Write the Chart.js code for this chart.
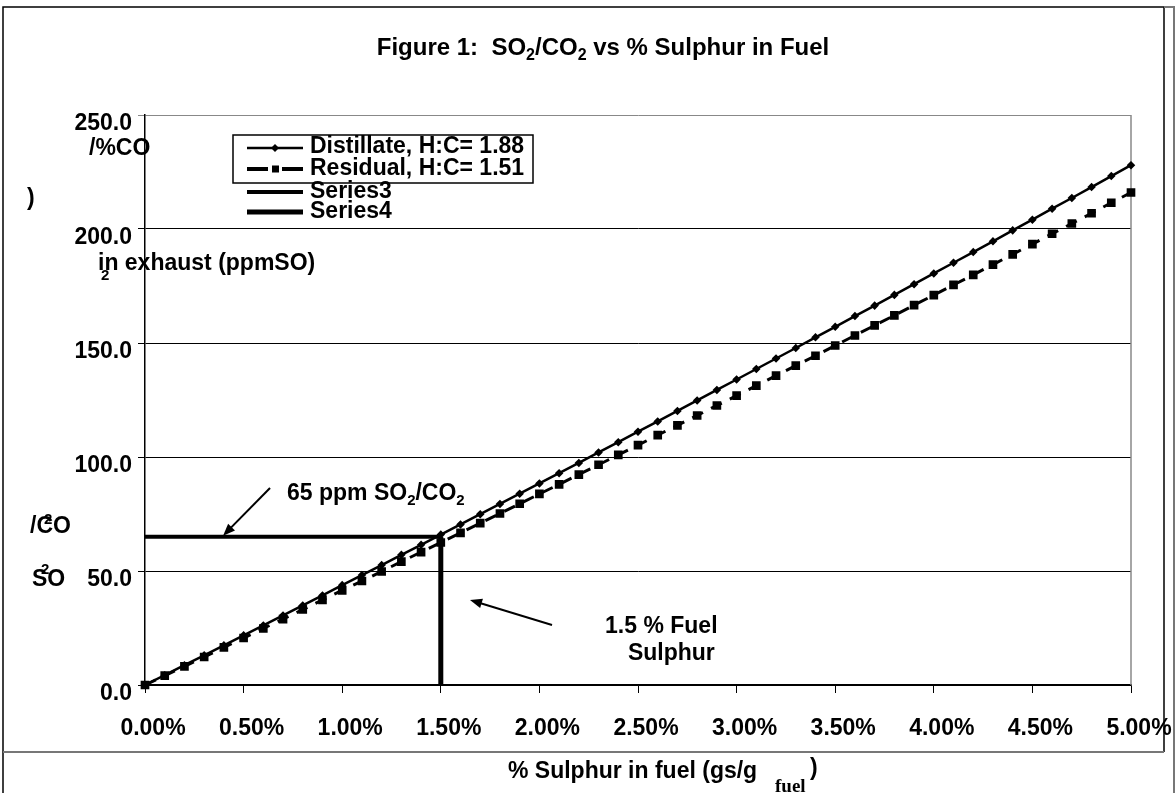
<!DOCTYPE html>
<html>
<head>
<meta charset="utf-8">
<script src="https://cdn.jsdelivr.net/npm/chart.js@4/dist/chart.umd.min.js"></script>
<style>
  html, body { margin: 0; padding: 0; background: #fff; }
  #wrap { position: relative; width: 1176px; height: 793px; }
</style>
</head>
<body>
<div id="wrap"><canvas id="chart"></canvas></div>
<script>
// % sulphur in fuel (x values, every 0.1 %)
const sulphurPct = [0.0, 0.1, 0.2, 0.3, 0.4, 0.5, 0.6, 0.7, 0.8, 0.9,
  1.0, 1.1, 1.2, 1.3, 1.4, 1.5, 1.6, 1.7, 1.8, 1.9,
  2.0, 2.1, 2.2, 2.3, 2.4, 2.5, 2.6, 2.7, 2.8, 2.9,
  3.0, 3.1, 3.2, 3.3, 3.4, 3.5, 3.6, 3.7, 3.8, 3.9,
  4.0, 4.1, 4.2, 4.3, 4.4, 4.5, 4.6, 4.7, 4.8, 4.9, 5.0];

// ppm SO2 / %CO2
const distillate = [0.0, 4.3, 8.7, 13.0, 17.4, 21.8, 26.1, 30.5, 34.9, 39.3,
  43.8, 48.2, 52.6, 57.1, 61.5, 66.0, 70.4, 74.9, 79.4, 83.9,
  88.4, 92.9, 97.4, 102.0, 106.5, 111.1, 115.6, 120.2, 124.8, 129.4,
  134.0, 138.6, 143.2, 147.8, 152.5, 157.1, 161.8, 166.4, 171.1, 175.8,
  180.5, 185.2, 189.9, 194.6, 199.4, 204.1, 208.9, 213.6, 218.4, 223.2, 228.0];

const residual = [0.0, 4.1, 8.2, 12.3, 16.5, 20.6, 24.8, 28.9, 33.1, 37.3,
  41.5, 45.6, 49.8, 54.1, 58.3, 62.5, 66.7, 71.0, 75.2, 79.5,
  83.8, 88.0, 92.3, 96.6, 100.9, 105.2, 109.6, 113.9, 118.2, 122.6,
  126.9, 131.3, 135.7, 140.1, 144.4, 148.9, 153.3, 157.7, 162.1, 166.6,
  171.0, 175.5, 179.9, 184.4, 188.9, 193.4, 197.9, 202.4, 206.9, 211.5, 216.0];

// 65 ppm reference lines
const series3X = [0, 1.5];
const series3Y = [65, 65];
const series4X = [1.5, 1.5];
const series4Y = [0, 65];

const seriesNames = ['Distillate, H:C= 1.88', 'Residual, H:C= 1.51', 'Series3', 'Series4'];

const FONT = '"Liberation Sans", Arial, sans-serif';
Chart.defaults.font.family = FONT;
Chart.defaults.color = '#000';

function pts(xs, ys) {
  return xs.map((x, i) => ({ x: x, y: ys[i] }));
}

// draw text made of parts, some of them subscript
function drawRich(ctx, parts, x, y, size) {
  let cx = x;
  parts.forEach(p => {
    const s = p[1] ? Math.round(size * 0.65) : size;
    ctx.font = 'bold ' + s + 'px ' + FONT;
    ctx.fillText(p[0], cx, p[1] ? y + size * 0.22 : y);
    cx += ctx.measureText(p[0]).width;
  });
}
function richWidth(ctx, parts, size) {
  let w = 0;
  parts.forEach(p => {
    const s = p[1] ? Math.round(size * 0.65) : size;
    ctx.font = 'bold ' + s + 'px ' + FONT;
    w += ctx.measureText(p[0]).width;
  });
  return w;
}

function arrow(ctx, x1, y1, x2, y2) {
  const a = Math.atan2(y2 - y1, x2 - x1);
  ctx.beginPath();
  ctx.moveTo(x1, y1);
  ctx.lineTo(x2 - 6 * Math.cos(a), y2 - 6 * Math.sin(a));
  ctx.lineWidth = 2;
  ctx.stroke();
  ctx.beginPath();
  ctx.moveTo(x2, y2);
  ctx.lineTo(x2 - 13 * Math.cos(a - 0.38), y2 - 13 * Math.sin(a - 0.38));
  ctx.lineTo(x2 - 13 * Math.cos(a + 0.38), y2 - 13 * Math.sin(a + 0.38));
  ctx.closePath();
  ctx.fill();
}

// annotations in data units (% sulphur, ppm)
const arrows = [
  { from: [0.634, 86.4], to: [0.396, 65.5] },
  { from: [2.064, 26.3], to: [1.648, 37.3] }
];
const notes = [
  { at: [0.72, 81.0], parts: [['65 ppm SO'], ['2', 1], ['/CO'], ['2', 1]] },
  { at: [2.333, 22.8], parts: [['1.5 % Fuel']] },
  { at: [2.449, 11.0], parts: [['Sulphur']] }
];

const overlay = {
  id: 'overlay',
  beforeDatasetsDraw(chart) {
    const { ctx, chartArea: a } = chart;
    ctx.save();
    ctx.strokeStyle = '#888';
    ctx.lineWidth = 1.5;
    ctx.beginPath();
    ctx.moveTo(a.right, a.top);
    ctx.lineTo(a.right, a.bottom);
    ctx.stroke();
    ctx.restore();
  },
  afterDraw(chart) {
    const { ctx } = chart;
    const xs = chart.scales.x, ys = chart.scales.y;
    ctx.save();
    ctx.fillStyle = '#000';
    ctx.strokeStyle = '#000';
    ctx.textBaseline = 'alphabetic';
    ctx.textAlign = 'left';

    // title
    const title = [['Figure 1:  SO'], ['2', 1], ['/CO'], ['2', 1], [' vs % Sulphur in Fuel']];
    const tw = richWidth(ctx, title, 24);
    drawRich(ctx, title, 603 - tw / 2, 55, 24);

    // y axis title (broken up as in the original)
    ctx.font = 'bold 23px ' + FONT;
    ctx.fillText('/%CO', 89, 155);
    ctx.fillText(')', 27, 205);
    ctx.fillText('in exhaust (ppmSO)', 98, 270);
    ctx.fillText('/CO', 30, 533);
    ctx.fillText('SO', 32, 586);
    ctx.font = 'bold 15px ' + FONT;
    ctx.fillText('2', 101, 280);
    ctx.fillText('2', 44, 524);
    ctx.fillText('2', 41, 574);

    // x axis title
    ctx.font = 'bold 23px ' + FONT;
    ctx.fillText('% Sulphur in fuel (gs/g', 508, 778);
    ctx.fillText(')', 810, 775);
    ctx.font = 'bold 19px "Liberation Serif", "Times New Roman", serif';
    ctx.fillText('fuel', 775, 792);

    // notes and arrows
    notes.forEach(n => {
      drawRich(ctx, n.parts, xs.getPixelForValue(n.at[0]), ys.getPixelForValue(n.at[1]), 23);
    });
    arrows.forEach(r => {
      arrow(ctx, xs.getPixelForValue(r.from[0]), ys.getPixelForValue(r.from[1]),
        xs.getPixelForValue(r.to[0]), ys.getPixelForValue(r.to[1]));
    });

    // legend
    const ly = [148, 169, 192, 212];
    const lb = [153, 175, 198, 218];
    chart.data.datasets.forEach((ds, i) => {
      ctx.save();
      ctx.strokeStyle = '#000';
      ctx.lineWidth = i === 0 ? 2.5 : (i === 3 ? 5 : 4);
      if (i === 1) ctx.setLineDash([21, 14]);
      ctx.beginPath();
      ctx.moveTo(247, ly[i]);
      ctx.lineTo(303, ly[i]);
      ctx.stroke();
      ctx.restore();
      if (i === 0) {
        ctx.beginPath();
        ctx.moveTo(275, ly[i] - 4); ctx.lineTo(279, ly[i]);
        ctx.lineTo(275, ly[i] + 4); ctx.lineTo(271, ly[i]);
        ctx.closePath(); ctx.fill();
      }
      if (i === 1) ctx.fillRect(272, ly[i] - 3.5, 7, 7);
      ctx.font = 'bold 23px ' + FONT;
      ctx.fillText(seriesNames[i], 310, lb[i]);
    });
    ctx.lineWidth = 1.5;
    ctx.strokeRect(233, 135, 300, 48);

    // frames
    ctx.lineWidth = 1.5;
    ctx.strokeStyle = '#000';
    ctx.beginPath();
    ctx.moveTo(3, 793); ctx.lineTo(3, 7); ctx.lineTo(1164, 7); ctx.lineTo(1164, 752);
    ctx.stroke();
    ctx.strokeStyle = '#777';
    ctx.lineWidth = 2;
    ctx.beginPath();
    ctx.moveTo(3, 752); ctx.lineTo(1164, 752);
    ctx.moveTo(1164, 7); ctx.lineTo(1174, 7); ctx.lineTo(1174, 793);
    ctx.stroke();
    ctx.restore();
  }
};

const chart = new Chart(document.getElementById('chart'), {
  type: 'line',
  data: {
    datasets: [
      {
        label: seriesNames[0],
        data: pts(sulphurPct, distillate),
        borderColor: '#000', backgroundColor: '#000',
        borderWidth: 2.5, pointStyle: 'rectRot', pointRadius: 2.5, clip: 10
      },
      {
        label: seriesNames[1],
        data: pts(sulphurPct, residual),
        borderColor: '#000', backgroundColor: '#000',
        borderWidth: 3, borderDash: [12, 9], pointStyle: 'rect', pointRadius: 4, clip: 10
      },
      {
        label: seriesNames[2],
        data: pts(series3X, series3Y),
        borderColor: '#000', borderWidth: 4, pointRadius: 0, clip: 10
      },
      {
        label: seriesNames[3],
        data: pts(series4X, series4Y),
        borderColor: '#000', borderWidth: 5, pointRadius: 0, clip: 10
      }
    ]
  },
  options: {
    responsive: true,
    maintainAspectRatio: false,
    animation: false,
    events: [],
    layout: { padding: { left: 0, top: 115, right: 45, bottom: 0 } },
    plugins: { legend: { display: false }, tooltip: { enabled: false }, title: { display: false } },
    scales: {
      x: {
        type: 'linear', min: 0, max: 5,
        afterFit(s) { s.height = 108; s.paddingLeft = 0; s.paddingRight = 0; },
        border: { color: '#000', width: 1.5 },
        grid: { drawOnChartArea: false, drawTicks: true, tickLength: 8, color: '#000', lineWidth: 1 },
        ticks: {
          stepSize: 0.5, padding: 22, labelOffset: 8, maxRotation: 0,
          font: { size: 23, weight: 'bold' },
          callback: v => v.toFixed(2) + '%'
        }
      },
      y: {
        min: 0, max: 250,
        afterFit(s) { s.width = 145; s.paddingTop = 0; s.paddingBottom = 0; },
        border: { color: '#000', width: 1.5 },
        grid: {
          tickLength: 7, lineWidth: 1,
          color: c => (c.tick && c.tick.value === 250 ? '#888' : '#000')
        },
        ticks: {
          stepSize: 50, padding: 6, labelOffset: 9,
          font: { size: 23, weight: 'bold' },
          callback: v => v.toFixed(1)
        }
      }
    }
  },
  plugins: [overlay]
});
</script>
</body>
</html>
